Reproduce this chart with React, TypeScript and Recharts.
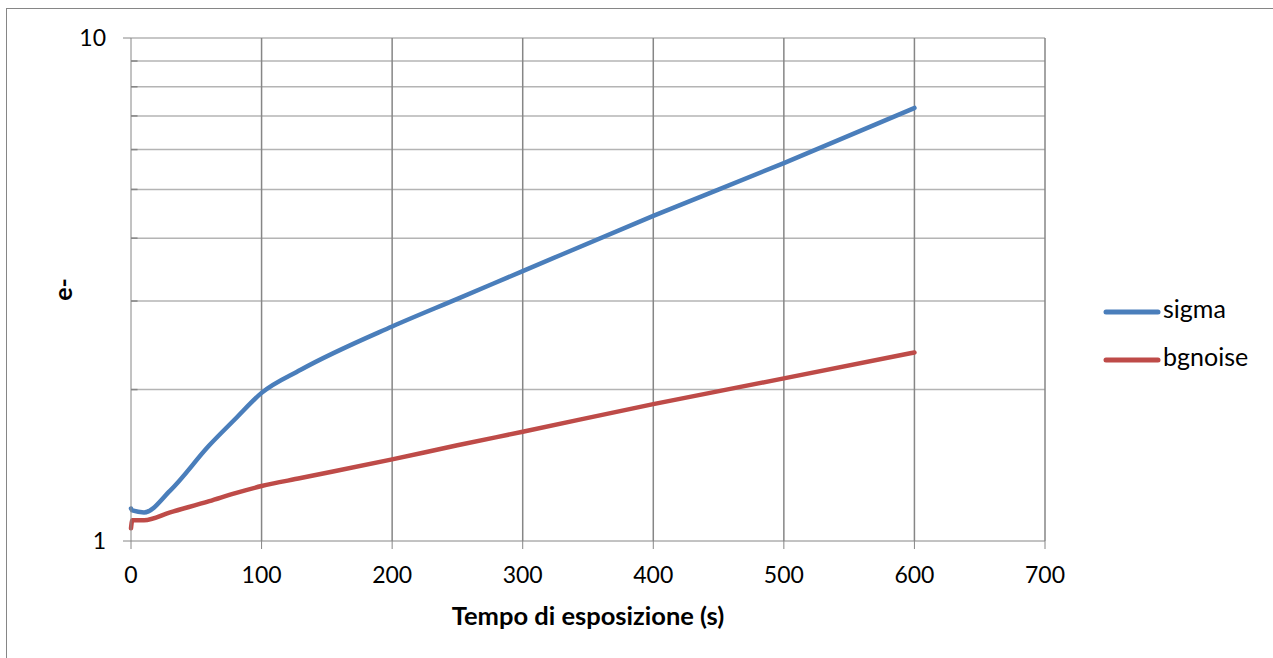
import React from 'react';
import { LineChart, Line, XAxis, YAxis, ReferenceLine } from 'recharts';

// exposure time (s)
const times = [0, 1, 10, 30, 60, 80, 100, 130, 200, 250, 300, 400, 500, 600];
// measured noise, e-
const sigma = [1.16, 1.15, 1.14, 1.26, 1.55, 1.75, 1.97, 2.19, 2.67, 3.03, 3.44, 4.43, 5.64, 7.26];
const bgnoise = [1.06, 1.1, 1.1, 1.14, 1.2, 1.245, 1.286, 1.334, 1.453, 1.55, 1.649, 1.871, 2.105, 2.37];

const xTicks = [0, 100, 200, 300, 400, 500, 600, 700];
const yTicks = [1, 10];
const yMinor = [2, 3, 4, 5, 6, 7, 8, 9, 10];

const seriesInfo = [
  { key: 'sigma', name: 'sigma', color: '#4A7EBB' },
  { key: 'bgnoise', name: 'bgnoise', color: '#BE4B48' },
];

const data = times.map((t, i) => ({ t, sigma: sigma[i], bgnoise: bgnoise[i] }));

const FONT = 'Lato, "Open Sans", sans-serif';
const AXIS_GREY = '#868686';
const GRID_LIGHT = '#b4b4b4';

export default function App() {
  return (
    <div style={{ position: 'absolute', left: 0, top: 0, width: 1273, height: 658, overflow: 'hidden', background: '#fff', fontFamily: FONT }}>
      {/* chart area frame */}
      <div style={{ position: 'absolute', left: 6, top: 8, width: 1300, height: 700, border: `1px solid ${AXIS_GREY}` }} />
      <LineChart
        width={1273}
        height={658}
        data={data}
        margin={{ top: 38, right: 228, bottom: 57, left: 71 }}
        style={{ position: 'absolute', left: 0, top: 0 }}
      >
        <XAxis
          dataKey="t"
          type="number"
          domain={[0, 700]}
          ticks={xTicks}
          height={60}
          stroke={AXIS_GREY}
          tickSize={8}
          tickMargin={18}
          tick={{ fill: '#000', fontSize: 23, fontFamily: FONT }}
          label={{
            content: ({ viewBox }: any) => (
              <text
                x={viewBox.x + viewBox.width / 2}
                y={viewBox.y + 84}
                textAnchor="middle"
                fontSize={25.5}
                fontWeight="bold"
                fontFamily={FONT}
                fill="#000"
              >
                Tempo di esposizione (s)
              </text>
            ),
          }}
        />
        <YAxis
          scale="log"
          domain={[1, 10]}
          allowDataOverflow
          ticks={yTicks}
          width={60}
          stroke={AXIS_GREY}
          tickSize={8}
          tickMargin={17}
          tick={{ fill: '#000', fontSize: 23, fontFamily: FONT }}
          label={{
            content: ({ viewBox }: any) => {
              const cx = viewBox.x - 9;
              const cy = viewBox.y + viewBox.height / 2;
              return (
                <text
                  x={cx}
                  y={cy}
                  transform={`rotate(-90 ${cx} ${cy})`}
                  textAnchor="middle"
                  dominantBaseline="central"
                  fontSize={25}
                  fontWeight="bold"
                  fontFamily={FONT}
                  fill="#000"
                >
                  e-
                </text>
              );
            },
          }}
        />
        {yMinor.map((v) => (
          <ReferenceLine key={`h${v}`} y={v} stroke={GRID_LIGHT} strokeWidth={1.5} />
        ))}
        {yMinor.slice(0, -1).map((v) => (
          <ReferenceLine
            key={`m${v}`}
            segment={[{ x: 0, y: v }, { x: 5, y: v }]}
            stroke={AXIS_GREY}
            strokeWidth={1.5}
          />
        ))}
        {xTicks.slice(1).map((v) => (
          <ReferenceLine key={`v${v}`} x={v} stroke={AXIS_GREY} strokeWidth={1.5} />
        ))}
        {seriesInfo.map((s) => (
          <Line
            key={s.key}
            type="monotone"
            dataKey={s.key}
            name={s.name}
            stroke={s.color}
            strokeWidth={4.5}
            strokeLinecap="round"
            dot={false}
            activeDot={false}
            isAnimationActive={false}
          />
        ))}
      </LineChart>
      {/* legend */}
      <svg width={180} height={100} style={{ position: 'absolute', left: 1093, top: 280 }}>
        {seriesInfo.map((s, i) => (
          <g key={s.key} transform={`translate(0, ${32 + i * 48})`}>
            <line x1={13} x2={65} y1={0} y2={0} stroke={s.color} strokeWidth={5} strokeLinecap="round" />
            <text x={70} y={6} fontSize={25} fontFamily={FONT} fill="#000">
              {s.name}
            </text>
          </g>
        ))}
      </svg>
    </div>
  );
}
